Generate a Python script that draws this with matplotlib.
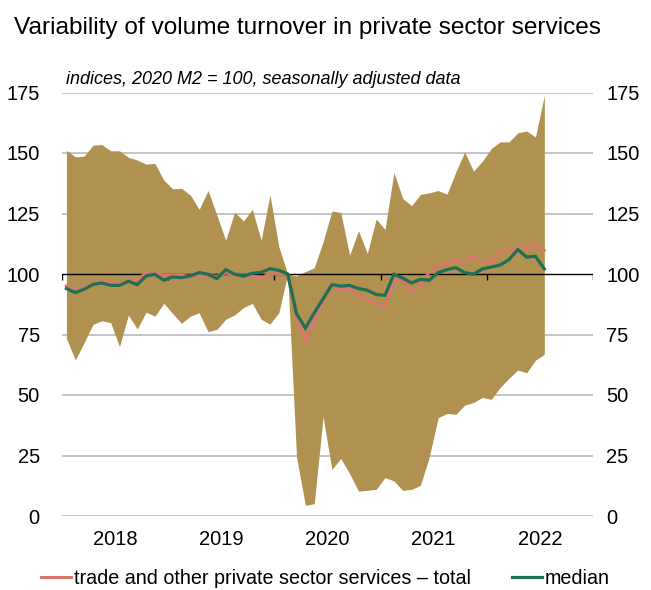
import matplotlib
matplotlib.use("Agg")
import matplotlib.pyplot as plt
import numpy as np

plt.rcParams['font.family'] = ['Liberation Sans', 'DejaVu Sans']

years = [2018, 2019, 2020, 2021, 2022]
yticks = [0, 25, 50, 75, 100, 125, 150, 175]

# monthly data, 2018 M1 .. 2022 M7
upper = [151.1, 148.4, 148.7, 153.2, 153.5, 150.9, 150.9, 148.2, 147.1, 145.4,
         145.7, 138.8, 135.2, 135.4, 132.6, 126.7, 134.5, 124.3, 113.9, 125.6,
         121.9, 126.7, 114.0, 132.6, 111.3, 100.0, 99.2, 101.0, 102.6, 113.3,
         126.0, 125.4, 107.8, 117.9, 108.5, 122.7, 118.4, 141.9, 131.2, 128.2,
         132.9, 133.5, 134.5, 133.0, 142.2, 150.4, 142.5, 146.6, 151.8, 154.6,
         154.6, 158.3, 159.1, 156.6, 173.8]
lower = [73.4, 64.5, 71.6, 79.2, 80.7, 79.9, 70.0, 83.0, 77.3, 84.2,
         82.6, 87.9, 83.7, 79.6, 82.6, 84.0, 76.2, 77.1, 81.3, 83.1,
         86.1, 87.9, 81.3, 79.3, 84.0, 100.0, 24.4, 4.4, 5.1, 41.0,
         19.2, 23.8, 17.5, 10.3, 10.6, 11.0, 15.9, 14.5, 10.6, 11.0,
         12.7, 24.4, 40.6, 42.4, 42.0, 45.8, 46.9, 49.0, 48.2, 53.1,
         56.9, 60.3, 59.2, 64.4, 66.8]
total = [95.0, 93.0, 94.5, 96.0, 97.0, 96.5, 96.0, 97.0, 97.5, 100.5,
         100.5, 99.5, 99.5, 99.5, 99.0, 99.5, 99.5, 99.0, 100.5, 99.5,
         99.0, 99.0, 98.5, 100.0, 100.0, 100.0, 82.2, 72.5, 80.9, 88.4,
         95.3, 93.3, 94.0, 91.2, 89.1, 88.0, 86.6, 98.1, 97.4, 92.9,
         95.3, 100.8, 103.6, 104.3, 105.4, 105.4, 107.0, 105.2, 105.0, 109.5,
         109.8, 110.1, 111.2, 112.1, 109.8]
median = [94.0, 92.3, 93.7, 95.7, 96.3, 95.3, 95.3, 97.0, 95.6, 99.2,
          99.9, 97.4, 98.8, 98.5, 99.2, 100.6, 99.9, 98.1, 101.8, 99.9,
          99.1, 100.3, 100.6, 102.2, 101.5, 100.0, 83.6, 77.7, 83.9, 89.8,
          95.6, 95.0, 95.3, 94.0, 93.3, 91.5, 91.2, 99.9, 98.3, 96.3,
          97.8, 97.4, 100.6, 101.8, 102.6, 100.6, 99.9, 102.1, 102.9, 103.7,
          105.9, 110.1, 107.0, 107.3, 102.1]

band_color = '#B09150'
red = '#D9776C'
green = '#1F6E55'

fig = plt.figure(figsize=(6.51, 5.90), dpi=100)
ax = fig.add_axes([62/651, 1-516/590, (593-62)/651, (516-92.5)/590])

x = np.arange(len(upper)) + 0.5
ax.fill_between(x, lower, upper, color=band_color, linewidth=0, zorder=2)
for yv in yticks:
    if yv != 100:
        ax.axhline(yv, color='#C4C4C4', lw=1.4, zorder=1)
ax.axhline(100, color='black', lw=1.0, zorder=3)
year_edges = [12*i for i in range(len(years)+1)]
ax.vlines(year_edges, 100 - 2.6, 100, color='black', lw=1.0, zorder=3)

ax.plot(x, total, color=red, lw=2.2, zorder=4, solid_joinstyle='miter',
        label='trade and other private sector services \u2013 total')
ax.plot(x, median, color=green, lw=2.3, zorder=5, solid_joinstyle='miter',
        label='median')

ax.set_xlim(0, 12*len(years))
ax.set_ylim(0, 175)
ax.set_yticks(yticks)
ax.set_yticklabels([str(v) for v in yticks], fontsize=14.5)
ax.set_xticks([12*i + 6 for i in range(len(years))])
ax.set_xticklabels([str(y) for y in years], fontsize=14.5)
ax.tick_params(axis='both', length=0)
ax.tick_params(axis='x', pad=10)
ax.tick_params(axis='y', pad=16)
for s in ax.spines.values():
    s.set_visible(False)

ax2 = ax.twinx()
ax2.set_ylim(0, 175)
ax2.set_yticks(yticks)
ax2.set_yticklabels([str(v) for v in yticks], fontsize=14.5)
ax2.tick_params(axis='y', length=0, pad=9.4)
for s in ax2.spines.values():
    s.set_visible(False)

fig.text(14/651, 1-28/590, 'Variability of volume turnover in private sector services',
         fontsize=17.6, va='center', ha='left')
fig.text(66/651, 1-79/590, 'indices, 2020 M2 = 100, seasonally adjusted data',
         fontsize=13, style='italic', va='center', ha='left')

h, l = ax.get_legend_handles_labels()
fig.legend(h, l, loc='center', bbox_to_anchor=(0.5, 1-578/590), ncol=2,
           frameon=False, fontsize=14.2, handlelength=1.5, handletextpad=0.15,
           columnspacing=2.1, borderaxespad=0)

fig.savefig('out.png', dpi=100)
